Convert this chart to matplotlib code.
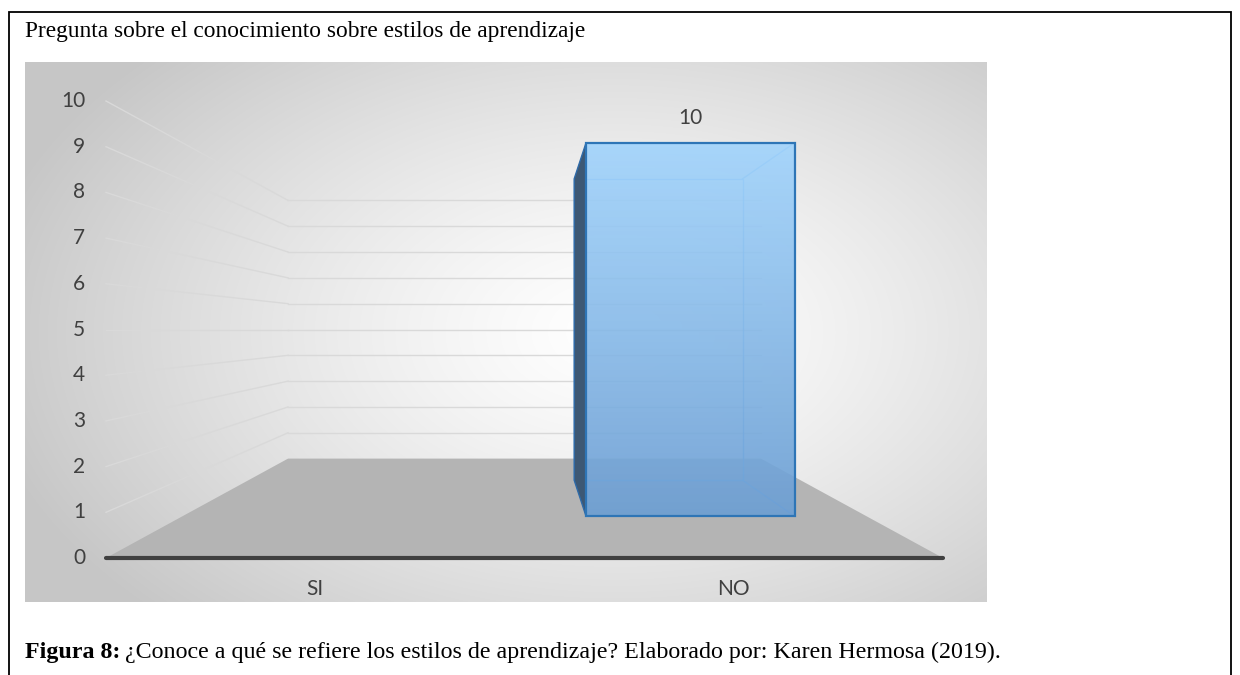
import numpy as np
import matplotlib.pyplot as plt
from matplotlib.patches import Polygon, Rectangle

# datos del grafico
categorias = ['SI', 'NO']
valores = [0, 10]
ticks_y = list(range(0, 11))
titulo = 'Pregunta sobre el conocimiento sobre estilos de aprendizaje'
pie_negrita = 'Figura 8:'
pie_texto = '¿Conoce a qué se refiere los estilos de aprendizaje? Elaborado por: Karen Hermosa (2019).'

W, H, DPI = 1240, 675, 100

# geometria de la perspectiva (pixeles del plano frontal)
px_izq, px_der = 106, 943
px_v0, px_vmax = 558, 101
k = 0.77            # encogimiento con la profundidad
d_frente, d_fondo = 0.29, 0.67   # profundidad de la barra
ancho_barra = 0.61

vmax = max(ticks_y)
xc = (len(categorias) - 1) / 2.0
vc = vmax / 2.0


def proj(x, v, d):
    """Proyecta (categoria, valor, profundidad) al plano de la figura"""
    s = 1.0 / (1.0 + k * d)
    return xc + (x - xc) * s, vc + (v - vc) * s


fig = plt.figure(figsize=(W / DPI, H / DPI), dpi=DPI)
fig.patch.set_facecolor('white')

# fondo degradado radial del area del grafico
bx0, bx1, by0, by1 = 25, 987, 62, 602
bg = fig.add_axes([bx0 / W, 1 - by1 / H, (bx1 - bx0) / W, (by1 - by0) / H])
yy, xx = np.mgrid[0:by1 - by0, 0:bx1 - bx0]
t = np.sqrt(((xx - 590) / 640.0) ** 2 + ((yy - 270) / 400.0) ** 2)
t = np.clip(t, 0, 1)
img = 1 - 0.22 * t ** 1.3
bg.imshow(np.dstack([img, img, img]), aspect='auto', interpolation='bilinear')
bg.axis('off')

# ejes principales
ax = fig.add_axes([0, 0, 1, 1])
ax.patch.set_alpha(0)
ux = (len(categorias)) / (px_der - px_izq)
uy = vmax / (px_v0 - px_vmax)
x_izq = -0.5
x_der = len(categorias) - 0.5
ax.set_xlim(x_izq - px_izq * ux, x_izq + (W - px_izq) * ux)
ax.set_ylim(-(H - px_v0) * uy, px_v0 * uy)
ax.axis('off')

col_grid = '#d9d9d9'
# lineas de la pared del fondo y de la pared lateral
for v in ticks_y[1:]:
    a = proj(x_izq, v, 0)
    b = proj(x_izq, v, 1)
    c = proj(x_der, v, 1)
    ax.plot([a[0], b[0]], [a[1], b[1]], color=col_grid, lw=1, zorder=2)
    ax.plot([b[0], c[0]], [b[1], c[1]], color=col_grid, lw=1, zorder=2)

# piso
piso = [proj(x_izq, 0, 0), proj(x_der, 0, 0), proj(x_der, 0, 1), proj(x_izq, 0, 1)]
ax.add_patch(Polygon(piso, closed=True, facecolor='#b4b4b4', edgecolor='none', zorder=3))
f0, f1 = proj(x_izq, 0, 0), proj(x_der, 0, 0)
ax.plot([f0[0], f1[0]], [f0[1], f1[1]], color='#404040', lw=3, solid_capstyle='round', zorder=4)

# barras
for i, (cat, val) in enumerate(zip(categorias, valores)):
    if val <= 0:
        continue
    x0, x1 = i - 0.015 - ancho_barra / 2, i - 0.015 + ancho_barra / 2
    # cara trasera y aristas ocultas
    atras = [proj(x0, 0, d_fondo), proj(x1, 0, d_fondo), proj(x1, val, d_fondo), proj(x0, val, d_fondo)]
    ax.add_patch(Polygon(atras, closed=True, facecolor='none', edgecolor='#6aaef0',
                         lw=1, alpha=0.8, zorder=5))
    for v in (0, val):
        p, q = proj(x1, v, d_frente), proj(x1, v, d_fondo)
        ax.plot([p[0], q[0]], [p[1], q[1]], color='#6aaef0', lw=1, alpha=0.8, zorder=5)
    # cara lateral izquierda (oscura)
    lado = [proj(x0, 0, d_fondo), proj(x0, 0, d_frente), proj(x0, val, d_frente), proj(x0, val, d_fondo)]
    ax.add_patch(Polygon(lado, closed=True, facecolor='#3d5874', edgecolor='#2e6aa8',
                         lw=1, zorder=6))
    # cara frontal con degradado
    frente = [proj(x0, 0, d_frente), proj(x1, 0, d_frente), proj(x1, val, d_frente), proj(x0, val, d_frente)]
    poly = Polygon(frente, closed=True, facecolor='none', edgecolor='#2e75b6', lw=1.6, zorder=8)
    ax.add_patch(poly)
    clip = Polygon(frente, closed=True, transform=ax.transData)
    top = np.array([0.63, 0.83, 0.99])
    bot = np.array([0.42, 0.62, 0.83])
    g = np.linspace(0, 1, 200)[:, None]
    grad = top[None, :] * (1 - g) + bot[None, :] * g
    grad = np.repeat(grad[:, None, :], 2, axis=1)
    xs = [p[0] for p in frente]
    ys = [p[1] for p in frente]
    im = ax.imshow(grad, extent=[min(xs), max(xs), min(ys), max(ys)], aspect='auto',
                   alpha=0.9, zorder=7, interpolation='bilinear')
    im.set_clip_path(clip)
    # etiqueta de valor
    ax.annotate(str(val), xy=proj(i - 0.015, val, d_frente), xytext=(0, 18), textcoords='offset points',
                ha='center', va='center', fontsize=15, color='#404040', family='Lato')

# etiquetas eje y
for v in ticks_y:
    ax.annotate(str(v), xy=proj(x_izq, v, 0), xytext=(-15, 0), textcoords='offset points',
                ha='right', va='center', fontsize=15, color='#404040', family='Lato')

# etiquetas de categorias
for i, cat in enumerate(categorias):
    ax.annotate(cat, xy=proj(i, 0, 0), xytext=(0, -22), textcoords='offset points',
                ha='center', va='center', fontsize=15, color='#404040', family='Lato')

ax.set_xlim(ax.get_xlim())
ax.set_ylim(ax.get_ylim())

# marco exterior
fig.patches.append(Rectangle((9 / W, -0.05), (1231 - 9) / W, 1.05 - 12 / H,
                             transform=fig.transFigure, fill=False, edgecolor='black', lw=1.3))

# titulo y pie
fig.text(25 / W, 1 - 32 / H, titulo, ha='left', va='center', fontsize=16.8,
         family='Liberation Serif', color='black')
t1 = fig.text(25 / W, 1 - 658 / H, pie_negrita, ha='left', va='baseline', fontsize=17.3,
              family='Liberation Serif', weight='bold', color='black')
fig.canvas.draw()
bb = t1.get_window_extent(fig.canvas.get_renderer())
fig.text(bb.x1 / W + 5 / W, 1 - 658 / H, pie_texto, ha='left', va='baseline', fontsize=17.3,
         family='Liberation Serif', color='black')

fig.savefig('out.png', dpi=DPI)
